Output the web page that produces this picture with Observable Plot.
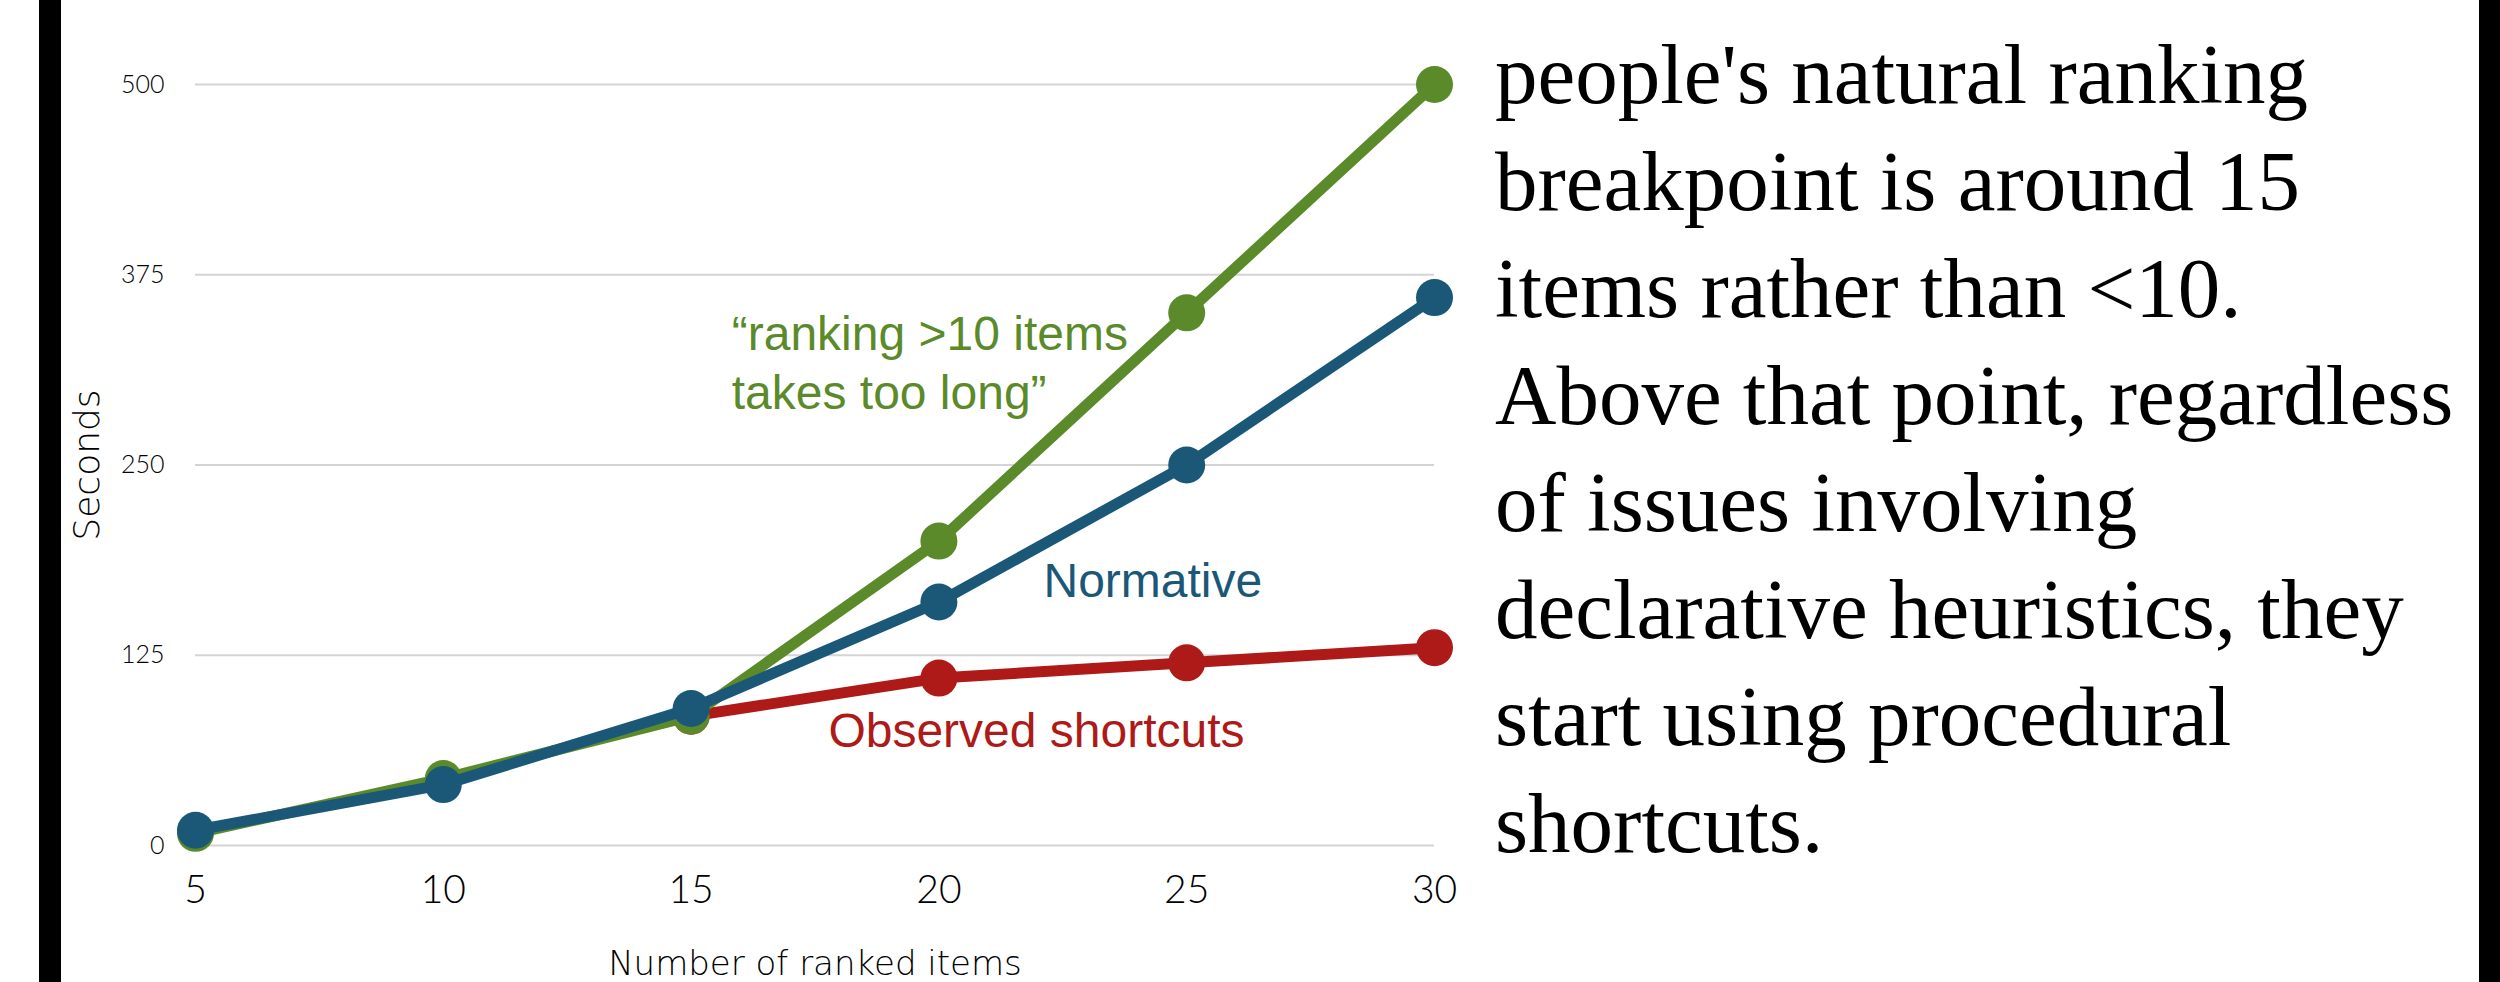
<!DOCTYPE html>
<html>
<head>
<meta charset="utf-8">
<script src="https://cdn.jsdelivr.net/npm/d3@7"></script>
<script src="https://cdn.jsdelivr.net/npm/@observablehq/plot@0.6"></script>
<style>
  html, body { margin: 0; padding: 0; background: #fff; }
  #page { position: relative; width: 2500px; height: 982px; overflow: hidden; background: #fff; }
  .bar { position: absolute; top: 0; height: 982px; background: #000; }
  #chart { position: absolute; left: 0; top: 0; }
  #note {
    position: absolute; left: 1495px; top: 21px;
    font-family: "Liberation Serif", "DejaVu Serif", serif;
    font-size: 85px; line-height: 107px; color: #000;
    white-space: pre; margin: 0;
  }
</style>
</head>
<body>
<div id="page">
  <div class="bar" style="left:39px;width:22px"></div>
  <div class="bar" style="left:2479px;width:21px"></div>
  <div id="chart"></div>
  <p id="note"></p>
</div>
<script>
// ---- data ----
const items = [5, 10, 15, 20, 25, 30];
const tooLong = [8, 44, 85, 200, 350, 500];      // green
const normative = [10, 40, 90, 160, 250, 360];   // blue
const observedItems = [15, 20, 25, 30];
const observed = [85, 110, 120, 130];            // red
const yTicks = [0, 125, 250, 375, 500];
const xTicks = [5, 10, 15, 20, 25, 30];

const labels = [
  {text: "\u201Cranking >10 items\ntakes too long\u201D", x: 15.82, y: 287, color: "#5B8A2A"},
  {text: "Normative", x: 22.11, y: 163, color: "#1B5878"},
  {text: "Observed shortcuts", x: 17.77, y: 64.5, color: "#AE1A18"}
];

const noteLines = [
  "people's natural ranking",
  "breakpoint is around 15",
  "items rather than <10.",
  "Above that point, regardless",
  "of issues involving",
  "declarative heuristics, they",
  "start using procedural",
  "shortcuts."
];

const green = "#5B8A2A", blue = "#1B5878", red = "#AE1A18";

const greenData = items.map((x, i) => ({x, y: tooLong[i]}));
const blueData = items.map((x, i) => ({x, y: normative[i]}));
const redData = observedItems.map((x, i) => ({x, y: observed[i]}));

const tickFont = "Lato, 'DejaVu Sans', sans-serif";
const titleFont = "'DejaVu Sans', Lato, sans-serif";

const chart = Plot.plot({
  width: 1480,
  height: 982,
  marginLeft: 195,
  marginRight: 46,
  marginTop: 84,
  marginBottom: 137,
  x: {domain: [5, 30]},
  y: {domain: [0, 500]},
  style: {background: "transparent", fontFamily: tickFont, color: "#000"},
  marks: [
    Plot.gridY(yTicks, {stroke: "#d4d4d4", strokeOpacity: 1, strokeWidth: 2}),
    Plot.axisY(yTicks, {tickSize: 0, tickPadding: 31, fontSize: 25, fontWeight: 300, label: null, tickFormat: d => d}),
    Plot.axisX(xTicks, {tickSize: 0, tickPadding: 30, fontSize: 39, fontWeight: 300, label: null, tickFormat: d => d}),
    Plot.text(["Number of ranked items"], {frameAnchor: "bottom", textAnchor: "middle", lineAnchor: "bottom", dy: 129, fontSize: 34, fontWeight: 200, fontFamily: titleFont, fill: "#000", letterSpacing: 3.6}),
    Plot.text(["Seconds"], {frameAnchor: "left", textAnchor: "middle", lineAnchor: "middle", dx: -108, rotate: -90, fontSize: 36, fontWeight: 200, fontFamily: titleFont, fill: "#000", letterSpacing: 4}),
    Plot.line(redData, {x: "x", y: "y", stroke: red, strokeWidth: 11, strokeLinejoin: "round"}),
    Plot.dot(redData, {x: "x", y: "y", r: 18.5, fill: red}),
    Plot.line(greenData, {x: "x", y: "y", stroke: green, strokeWidth: 11, strokeLinejoin: "round"}),
    Plot.dot(greenData, {x: "x", y: "y", r: 18.5, fill: green}),
    Plot.line(blueData, {x: "x", y: "y", stroke: blue, strokeWidth: 11, strokeLinejoin: "round"}),
    Plot.dot(blueData, {x: "x", y: "y", r: 18.5, fill: blue}),
    Plot.text(labels, {x: "x", y: "y", text: "text", fill: "color", textAnchor: "start", lineAnchor: "bottom", lineHeight: 1.23, fontSize: 48, fontFamily: "'Liberation Sans', Arial, sans-serif"})
  ]
});
document.getElementById("chart").appendChild(chart);
document.getElementById("note").textContent = noteLines.join("\n");
</script>
</body>
</html>
